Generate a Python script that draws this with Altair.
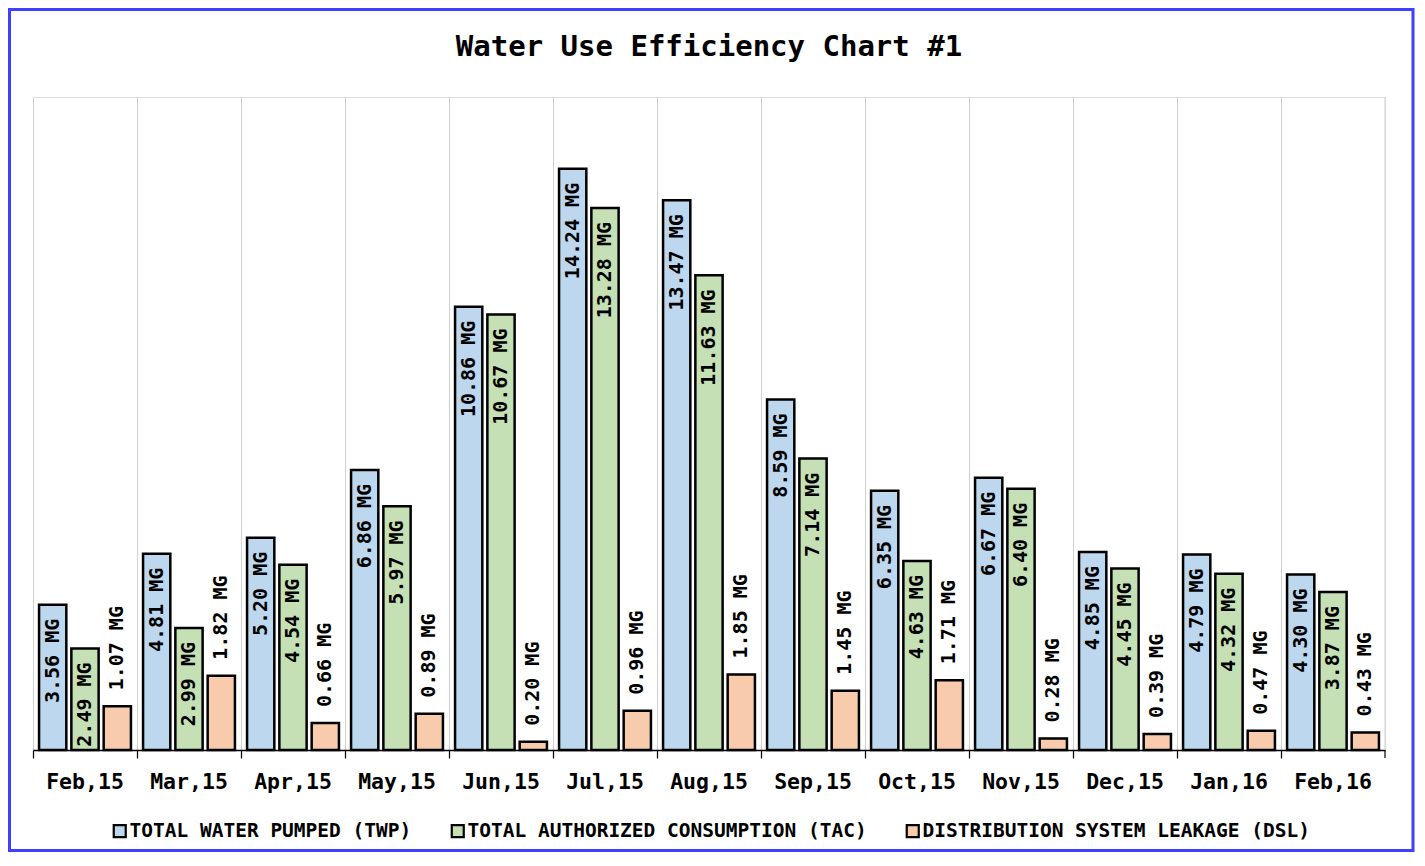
import altair as alt
import pandas as pd

months = ["Feb,15", "Mar,15", "Apr,15", "May,15", "Jun,15", "Jul,15", "Aug,15",
          "Sep,15", "Oct,15", "Nov,15", "Dec,15", "Jan,16", "Feb,16"]
twp = [3.56, 4.81, 5.20, 6.86, 10.86, 14.24, 13.47, 8.59, 6.35, 6.67, 4.85, 4.79, 4.30]
tac = [2.49, 2.99, 4.54, 5.97, 10.67, 13.28, 11.63, 7.14, 4.63, 6.40, 4.45, 4.32, 3.87]
dsl = [1.07, 1.82, 0.66, 0.89, 0.20, 0.96, 1.85, 1.45, 1.71, 0.28, 0.39, 0.47, 0.43]
series_names = ["TOTAL WATER PUMPED (TWP)", "TOTAL AUTHORIZED CONSUMPTION (TAC)",
                "DISTRIBUTION SYSTEM LEAKAGE (DSL)"]
series_colors = ["#BDD7EE", "#C5E0B4", "#F8CBAD"]

rows = []
for name, vals in zip(series_names, [twp, tac, dsl]):
    for m, v in zip(months, vals):
        rows.append({"month": m, "series": name, "value": v})
df = pd.DataFrame(rows)
one = pd.DataFrame({"k": [0]})

FONT = "DejaVu Sans Mono"
W, H = 1352, 653

x_enc = alt.X("month:N", sort=months, title=None,
              scale=alt.Scale(paddingInner=0, paddingOuter=0),
              axis=alt.Axis(bandPosition=0, grid=True, gridColor="#d0d0d0", gridWidth=1,
                            domainColor="black", domainWidth=1.5,
                            tickColor="black", tickSize=8, tickWidth=1.2,
                            labelAngle=0, labelFont=FONT, labelFontSize=21.5,
                            labelFontWeight="bold", labelColor="black", labelPadding=13))
xo_enc = alt.XOffset("series:N", sort=series_names,
                     scale=alt.Scale(domain=series_names, paddingInner=0.156, paddingOuter=0.1875))
y_enc = alt.Y("value:Q", scale=alt.Scale(domain=[0, 16]), axis=None)

base = alt.Chart(df).transform_calculate(
    label="format(datum.value, '.2f') + ' MG'"
)

bars = base.mark_bar(stroke="black", strokeWidth=2.5).encode(
    x=x_enc, xOffset=xo_enc, y=y_enc,
    color=alt.Color("series:N", sort=series_names,
                    scale=alt.Scale(domain=series_names, range=series_colors),
                    legend=alt.Legend(orient="none", legendX=77, legendY=724,
                                      direction="horizontal", title=None,
                                      symbolType="square", symbolSize=144,
                                      symbolStrokeColor="black", symbolStrokeWidth=2.2,
                                      symbolOpacity=1,
                                      labelFont=FONT, labelFontSize=19.5, labelFontWeight="bold",
                                      labelColor="black", labelOffset=0, labelLimit=800,
                                      columnPadding=35, padding=0))
)

inside = base.transform_filter(
    alt.FieldOneOfPredicate(field="series", oneOf=series_names[:2])
).mark_text(angle=270, align="right", baseline="middle", dx=-14,
            font=FONT, fontSize=20, fontWeight="bold", color="black").encode(
    x=x_enc, xOffset=xo_enc, y=y_enc, text="label:N"
)

above = base.transform_filter(
    alt.FieldEqualPredicate(field="series", equal=series_names[2])
).mark_text(angle=270, align="left", baseline="middle", dx=16,
            font=FONT, fontSize=20, fontWeight="bold", color="black").encode(
    x=x_enc, xOffset=xo_enc, y=y_enc, text="label:N"
)

right_grid = alt.Chart(one).mark_rule(color="#d0d0d0", strokeWidth=1).encode(
    x=alt.value(W), y=alt.value(0), y2=alt.value(H))
right_tick = alt.Chart(one).mark_rule(color="black", strokeWidth=1.2).encode(
    x=alt.value(W), y=alt.value(H), y2=alt.value(H + 8))
border = alt.Chart(one).mark_rect(fillOpacity=0, stroke="#3F3FFF", strokeWidth=3).encode(
    x=alt.value(-23.5), x2=alt.value(1380), y=alt.value(-87.5), y2=alt.value(753.5))

chart = alt.layer(right_grid, bars, inside, above, right_tick, border).properties(
    width=W, height=H, padding=0,
    title=alt.TitleParams("Water Use Efficiency Chart #1", font=FONT, fontSize=29,
                          fontWeight="bold", color="black", anchor="middle",
                          frame="group", offset=-54)
).configure_view(stroke="transparent", strokeWidth=0).configure(background="white")

chart.save("out.html", embed_options={"renderer": "svg", "actions": False})
